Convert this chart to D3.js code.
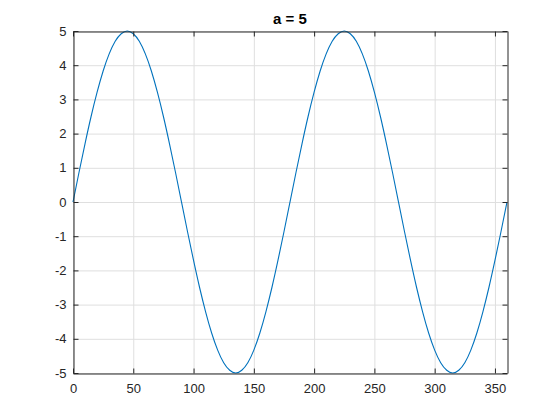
<!DOCTYPE html>
<html><head><meta charset="utf-8">
<script src="https://cdn.jsdelivr.net/npm/d3@7"></script>
<style>body{margin:0;background:#fff}svg{display:block}</style>
</head><body>
<script>
const xValues = [0,5,10,15,20,25,30,35,40,45,50,55,60,65,70,75,80,85,90,95,100,105,110,115,120,125,130,135,140,145,150,155,160,165,170,175,180,185,190,195,200,205,210,215,220,225,230,235,240,245,250,255,260,265,270,275,280,285,290,295,300,305,310,315,320,325,330,335,340,345,350,355,360];
const yValues = [0,0.87,1.71,2.5,3.21,3.83,4.33,4.7,4.92,5,4.92,4.7,4.33,3.83,3.21,2.5,1.71,0.87,0,
 -0.87,-1.71,-2.5,-3.21,-3.83,-4.33,-4.7,-4.92,-5,-4.92,-4.7,-4.33,-3.83,-3.21,-2.5,-1.71,-0.87,0,
 0.87,1.71,2.5,3.21,3.83,4.33,4.7,4.92,5,4.92,4.7,4.33,3.83,3.21,2.5,1.71,0.87,0,
 -0.87,-1.71,-2.5,-3.21,-3.83,-4.33,-4.7,-4.92,-5,-4.92,-4.7,-4.33,-3.83,-3.21,-2.5,-1.71,-0.87,0];
const xTicks = [0,50,100,150,200,250,300,350];
const yTicks = [-5,-4,-3,-2,-1,0,1,2,3,4,5];
const titleText = "a = 5";

const W=560,H=420, L=73, R=507, T=31, B=373;
const svg=d3.select("body").append("svg").attr("width",W).attr("height",H);
const x=d3.scaleLinear().domain([0,360]).range([L,R]);
const y=d3.scaleLinear().domain([-5,5]).range([B,T]);
const font="Arial, 'Liberation Sans', Helvetica, sans-serif";
const axC="#262626";
const fmt=d=>String(d);

// grid
svg.append("g").selectAll("line").data(xTicks).join("line")
 .attr("x1",d=>x(d)+0.5).attr("x2",d=>x(d)+0.5).attr("y1",T).attr("y2",B)
 .attr("stroke","#dfdfdf").attr("stroke-width",1);
svg.append("g").selectAll("line").data(yTicks).join("line")
 .attr("y1",d=>y(d)+0.5).attr("y2",d=>y(d)+0.5).attr("x1",L).attr("x2",R)
 .attr("stroke","#dfdfdf").attr("stroke-width",1);

// line
svg.append("path").datum(xValues.map((v,i)=>[v,yValues[i]]))
 .attr("fill","none").attr("stroke","#0072BD").attr("stroke-width",1.1)
 .attr("d",d3.line().x(d=>x(d[0])).y(d=>y(d[1])).curve(d3.curveNatural));

// axes with inward ticks
const tl=5;
const gB=svg.append("g").attr("transform",`translate(0,${B+0.5})`)
 .call(d3.axisBottom(x).tickValues(xTicks).tickSizeInner(-tl).tickSizeOuter(0).tickPadding(10).tickFormat(fmt));
const gT=svg.append("g").attr("transform",`translate(0,${T+0.5})`)
 .call(d3.axisTop(x).tickValues(xTicks).tickSizeInner(-tl).tickSizeOuter(0).tickFormat(""));
const gL=svg.append("g").attr("transform",`translate(${L+0.5},0)`)
 .call(d3.axisLeft(y).tickValues(yTicks).tickSizeInner(-tl).tickSizeOuter(0).tickPadding(7).tickFormat(fmt));
const gR=svg.append("g").attr("transform",`translate(${R+0.5},0)`)
 .call(d3.axisRight(y).tickValues(yTicks).tickSizeInner(-tl).tickSizeOuter(0).tickFormat(""));
[gB,gT,gL,gR].forEach(g=>{
 g.select(".domain").attr("stroke",axC);
 g.selectAll(".tick line").attr("stroke",axC);
 g.selectAll("text").attr("fill",axC).style("font-family",font).style("font-size","13px");
});

svg.append("text").attr("x",(L+R)/2).attr("y",24).attr("text-anchor","middle")
 .style("font-family",font).style("font-size","15px").style("font-weight","bold").attr("fill","#000")
 .text(titleText);
</script>
</body></html>
